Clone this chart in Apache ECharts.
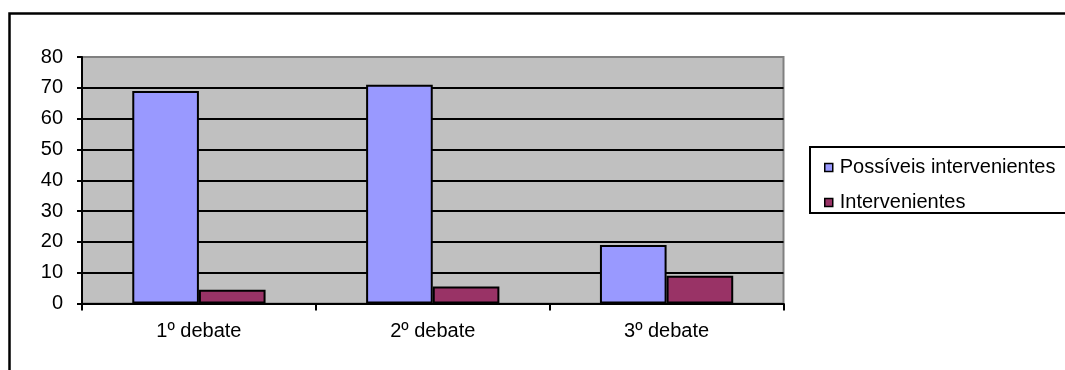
<!DOCTYPE html>
<html>
<head>
<meta charset="utf-8">
<script src="https://cdn.jsdelivr.net/npm/echarts@6/dist/echarts.min.js"></script>
<style>
html,body{margin:0;padding:0;background:#fff;}
#chart{width:1065px;height:370px;}
</style>
</head>
<body>
<div id="chart"></div>
<script>
const categories = ['1º debate', '2º debate', '3º debate'];
const possiveis = [69, 71, 19];
const intervenientes = [4.5, 5.5, 9];
const seriesNames = ['Possíveis intervenientes', 'Intervenientes'];
const yTicks = { min: 0, max: 80, interval: 10 };

const FONT = "'Liberation Sans', Arial, sans-serif";
const chart = echarts.init(document.getElementById('chart'));
chart.setOption({
  animation: false,
  backgroundColor: '#ffffff',
  textStyle: { fontFamily: FONT, color: '#000' },
  graphic: [
    { type: 'rect', z: -10, shape: { x: 9.5, y: 13.5, width: 1200, height: 500 },
      style: { fill: 'none', stroke: '#000', lineWidth: 2.5 } },
    { type: 'rect', z: -10, shape: { x: 810, y: 147, width: 400, height: 66 },
      style: { fill: '#fff', stroke: '#000', lineWidth: 2 } }
  ],
  grid: {
    left: 82, right: 281.5, top: 57, bottom: 66.5,
    show: true, backgroundColor: '#c0c0c0', borderColor: '#808080', borderWidth: 2
  },
  legend: {
    orient: 'vertical', left: 819, top: 152,
    itemWidth: 8, itemHeight: 8, itemGap: 14, icon: 'rect',
    itemStyle: { borderColor: '#000', borderWidth: 1.5 },
    textStyle: { fontFamily: FONT, fontSize: 20, color: '#000', lineHeight: 21, padding: [0, 0, 0, 2] },
    data: seriesNames
  },
  xAxis: {
    type: 'category', data: categories,
    axisLine: { show: true, lineStyle: { color: '#000', width: 2 } },
    axisTick: { show: true, length: 7, lineStyle: { color: '#000', width: 2 } },
    axisLabel: { fontFamily: FONT, fontSize: 20, color: '#000', margin: 18 },
    splitLine: { show: false }
  },
  yAxis: {
    type: 'value', min: yTicks.min, max: yTicks.max, interval: yTicks.interval,
    axisLine: { show: true, lineStyle: { color: '#000', width: 2 } },
    axisTick: { show: true, length: 5, lineStyle: { color: '#000', width: 2 } },
    axisLabel: { fontFamily: FONT, fontSize: 20, color: '#000', margin: 19 },
    splitLine: { show: true, showMaxLine: false, lineStyle: { color: '#000', width: 2 } }
  },
  series: [
    { name: seriesNames[0], type: 'bar', data: possiveis, barGap: '0%', barCategoryGap: '43%',
      itemStyle: { color: '#9999ff', borderColor: '#000', borderWidth: 2 } },
    { name: seriesNames[1], type: 'bar', data: intervenientes, barGap: '0%', barCategoryGap: '43%',
      itemStyle: { color: '#993366', borderColor: '#000', borderWidth: 2 } }
  ]
});
</script>
</body>
</html>
